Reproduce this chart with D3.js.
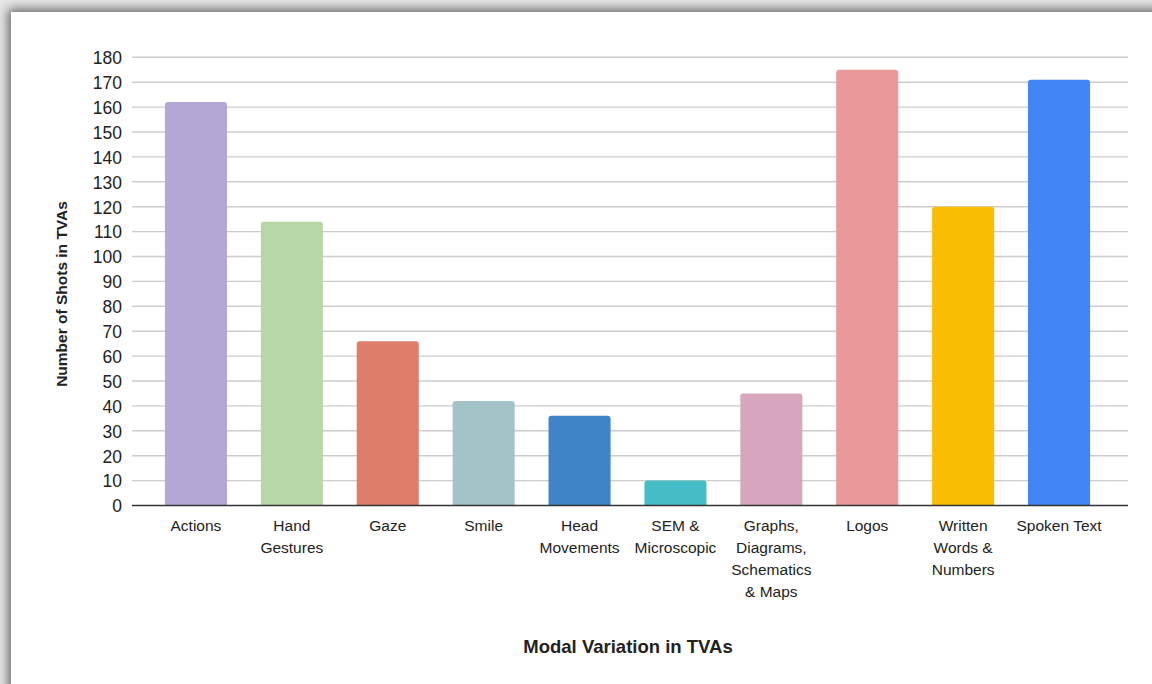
<!DOCTYPE html>
<html>
<head>
<meta charset="utf-8">
<script src="https://cdn.jsdelivr.net/npm/d3@7"></script>
<style>
  html, body { margin: 0; padding: 0; width: 1152px; height: 684px; overflow: hidden; background: #e6e6e6; }
  #card { position: absolute; left: 11px; top: 12px; width: 1200px; height: 720px; background: #fff;
          box-shadow: -3px -3px 10px rgba(0,0,0,0.55); }
  svg { position: absolute; left: 0; top: 0; }
  text { font-family: "Liberation Sans", Arial, sans-serif; fill: #222; }
</style>
</head>
<body>
<div id="card"></div>
<svg id="chart" width="1152" height="684"></svg>
<script>
// Shot counts per modality
const categories = [
  ["Actions"],
  ["Hand", "Gestures"],
  ["Gaze"],
  ["Smile"],
  ["Head", "Movements"],
  ["SEM &", "Microscopic"],
  ["Graphs,", "Diagrams,", "Schematics", "& Maps"],
  ["Logos"],
  ["Written", "Words &", "Numbers"],
  ["Spoken Text"]
];
const values = [162, 114, 66, 42, 36, 10, 45, 175, 120, 171];
const colors = ["#b4a7d6", "#b6d7a8", "#dd7e6b", "#a2c4c9", "#3d85c6",
                "#46bdc6", "#d5a6bd", "#ea9999", "#fbbc04", "#4285f4"];
const yTicks = d3.range(0, 181, 10);
const xTitle = "Modal Variation in TVAs";
const yTitle = "Number of Shots in TVAs";

const svg = d3.select("#chart");
const plot = { left: 132, right: 1128, top: 57.3, bottom: 505.5 };

const x = d3.scaleBand()
  .domain(d3.range(categories.length))
  .range([148, 1107])
  .paddingInner(0.353)
  .paddingOuter(0.1765);

const y = d3.scaleLinear().domain([0, 180]).range([plot.bottom, plot.top]);

// gridlines
svg.append("g")
  .selectAll("line")
  .data(yTicks.filter(d => d > 0))
  .join("line")
  .attr("x1", plot.left).attr("x2", plot.right)
  .attr("y1", d => y(d)).attr("y2", d => y(d))
  .attr("stroke", "#cccccc").attr("stroke-width", 1.4);

// y tick labels
const yAxis = d3.axisLeft(y).tickValues(yTicks).tickSize(0).tickPadding(0);
const yg = svg.append("g").attr("transform", `translate(122,0)`).call(yAxis);
yg.select(".domain").remove();
yg.selectAll("text")
  .attr("font-family", "Liberation Sans, Arial, sans-serif")
  .attr("font-size", 17.5).attr("fill", "#222").attr("dy", "0.36em");

// bars with rounded tops
const r = 3;
svg.append("g")
  .selectAll("path")
  .data(values)
  .join("path")
  .attr("fill", (d, i) => colors[i])
  .attr("d", (d, i) => {
    const x0 = x(i), w = x.bandwidth(), y0 = y(d), yb = y(0);
    return `M${x0},${yb} V${y0 + r} Q${x0},${y0} ${x0 + r},${y0} H${x0 + w - r} Q${x0 + w},${y0} ${x0 + w},${y0 + r} V${yb} Z`;
  });

// baseline
svg.append("line")
  .attr("x1", plot.left).attr("x2", plot.right)
  .attr("y1", y(0)).attr("y2", y(0))
  .attr("stroke", "#333").attr("stroke-width", 1.6);

// category labels
const xl = svg.append("g");
categories.forEach((lines, i) => {
  const t = xl.append("text")
    .attr("x", x(i) + x.bandwidth() / 2)
    .attr("y", 530.5)
    .attr("text-anchor", "middle")
    .attr("font-size", 15.5);
  lines.forEach((s, j) => {
    t.append("tspan").attr("x", x(i) + x.bandwidth() / 2).attr("dy", j === 0 ? 0 : 22.3).text(s);
  });
});

// axis titles
svg.append("text")
  .attr("x", 628).attr("y", 653)
  .attr("text-anchor", "middle")
  .attr("font-size", 18.5).attr("font-weight", "bold")
  .text(xTitle);

svg.append("text")
  .attr("transform", "translate(67,294) rotate(-90)")
  .attr("text-anchor", "middle")
  .attr("font-size", 15.5).attr("font-weight", "bold")
  .text(yTitle);
</script>
</body>
</html>
